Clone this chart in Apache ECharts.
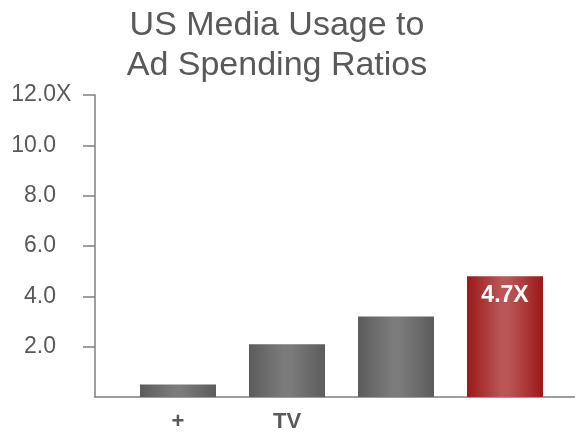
<!DOCTYPE html>
<html>
<head>
<meta charset="utf-8">
<script src="https://cdn.jsdelivr.net/npm/echarts@6/dist/echarts.min.js"></script>
<style>html,body{margin:0;padding:0;background:#fff}#c{width:575px;height:435px}</style>
</head>
<body>
<div id="c"></div>
<script>
var categories = ['+', 'TV', '', ''];
var ratios = [0.5, 2.1, 3.2, 4.8];
var highlightLabel = '4.7X';
var yTicks = [2, 4, 6, 8, 10, 12];
var yTopSuffix = 'X';
var titleLines = ['US Media Usage to', 'Ad Spending Ratios'];

function grad(edge, mid) {
  return new echarts.graphic.LinearGradient(0, 0, 1, 0, [
    {offset: 0, color: edge}, {offset: 0.45, color: mid}, {offset: 0.55, color: mid}, {offset: 1, color: edge}
  ]);
}
var grayFill = grad('#5c5c5c', '#7b7b7b');
var redFill = grad('#9c1818', '#ba5656');
var font = 'Liberation Sans, Arial, sans-serif';

var data = ratios.map(function (v, i) {
  var last = i === ratios.length - 1;
  return {
    value: v,
    itemStyle: {color: last ? redFill : grayFill},
    label: last ? {show: true, position: 'insideTop', distance: 8, formatter: highlightLabel,
      color: '#fff', fontWeight: 'bold', fontSize: 23, fontFamily: font} : {show: false}
  };
});

var chart = echarts.init(document.getElementById('c'), null, {renderer: 'canvas'});
chart.setOption({
  animation: false,
  title: {
    text: titleLines.join('\n'),
    left: 272, top: 1, textAlign: 'center',
    textStyle: {fontFamily: font, fontSize: 34, fontWeight: 'normal', color: '#595959', lineHeight: 40}
  },
  grid: [
    {left: 123.5, right: 15.5, top: 95, bottom: 38},
    {left: 95, right: 0, top: 95, bottom: 38}
  ],
  xAxis: [
    {type: 'category', gridIndex: 0, data: categories,
      axisLine: {show: false}, axisTick: {show: false},
      axisLabel: {color: '#595959', fontFamily: font, fontSize: 22, fontWeight: 'bold', margin: 14}},
    {type: 'value', gridIndex: 1, min: 0, max: 1,
      axisLine: {show: true, lineStyle: {color: '#7f7f7f', width: 1.5}},
      axisTick: {show: false}, axisLabel: {show: false}, splitLine: {show: false}}
  ],
  yAxis: [
    {type: 'value', gridIndex: 0, min: 0, max: 12, interval: 2, offset: 28.5,
      axisLine: {show: true, lineStyle: {color: '#7f7f7f', width: 1.5}},
      axisTick: {show: true, length: 12, lineStyle: {color: '#7f7f7f', width: 1.5}, customValues: yTicks},
      splitLine: {show: false},
      axisLabel: {customValues: yTicks, margin: 39, color: '#595959', fontFamily: font, fontSize: 23,
        formatter: function (v) { return v.toFixed(1); }}},
    {type: 'value', gridIndex: 1, show: false, min: 0, max: 1}
  ],
  series: [{
    type: 'bar', xAxisIndex: 0, yAxisIndex: 0, data: data, barWidth: 76
  }]
});
// unit suffix after the top tick label, placed via the axis scale
var yTopPx = chart.convertToPixel({yAxisIndex: 0}, yTicks[yTicks.length - 1]);
chart.setOption({
  graphic: [{type: 'text', x: 56, y: yTopPx, silent: true,
    style: {text: yTopSuffix, fill: '#595959', font: '23px ' + font, align: 'left', verticalAlign: 'middle'}}]
});
</script>
</body>
</html>
